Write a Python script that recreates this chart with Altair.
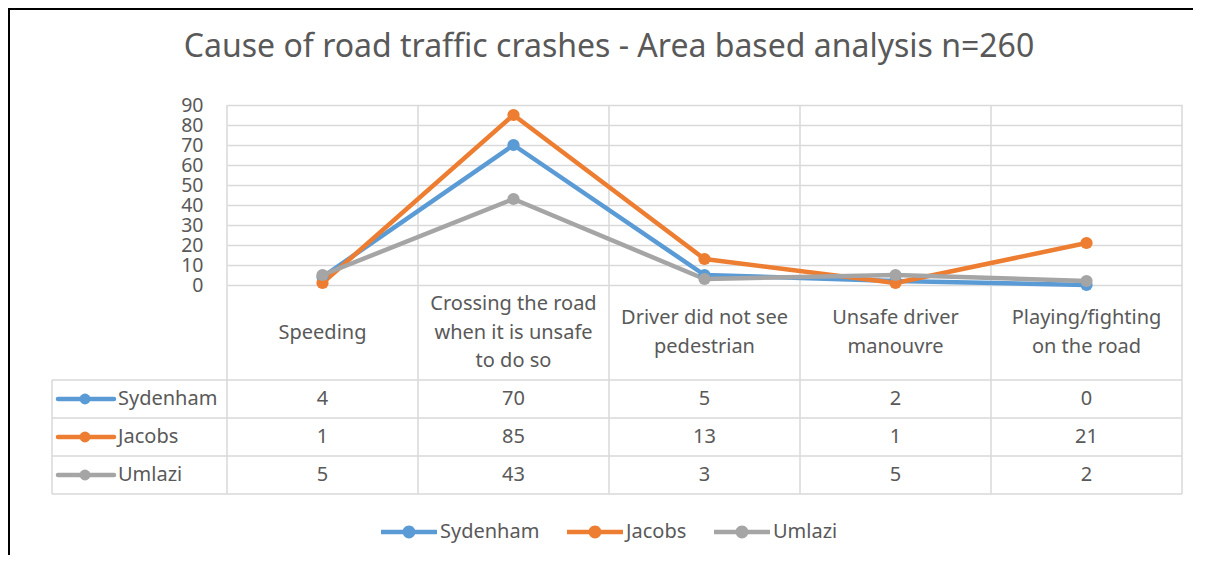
import altair as alt
import pandas as pd

# ---------------- data ----------------
categories = [
    "Speeding",
    "Crossing the road when it is unsafe to do so",
    "Driver did not see pedestrian",
    "Unsafe  driver manouvre",
    "Playing/fighting on the road",
]
category_lines = [
    ["Speeding"],
    ["Crossing the road", "when it is unsafe", "to do so"],
    ["Driver did not see", "pedestrian"],
    ["Unsafe  driver", "manouvre"],
    ["Playing/fighting", "on the road"],
]
series = ["Sydenham", "Jacobs", "Umlazi"]
sydenham = [4, 70, 5, 2, 0]
jacobs = [1, 85, 13, 1, 21]
umlazi = [5, 43, 3, 5, 2]
y_ticks = [0, 10, 20, 30, 40, 50, 60, 70, 80, 90]
colors = ["#5B9BD5", "#ED7D31", "#A5A5A5"]
title_text = "Cause of road traffic crashes - Area based analysis n=260"

# ---------------- style / layout ----------------
FONT = "Noto Sans"
TEXT = "#595959"
GRID = "#D9D9D9"
W, H = 955, 180
HEADER_BOTTOM = 275
ROW_H = 38
ROW_LEFT = -175
FS = 20
LH = 28.5

values_by_series = {"Sydenham": sydenham, "Jacobs": jacobs, "Umlazi": umlazi}
rows = []
for s in series:
    for i, (c, v) in enumerate(zip(categories, values_by_series[s])):
        rows.append({"series": s, "category": c, "pos": i + 0.5, "value": v})
long_df = pd.DataFrame(rows)
cat_df = pd.DataFrame({
    "category": categories,
    "label": ["\n".join(l) for l in category_lines],
    "nlines": [len(l) for l in category_lines],
    "pos": [i + 0.5 for i in range(len(categories))],
})
edge_df = pd.DataFrame({"edge": list(range(len(categories) + 1))})
series_df = pd.DataFrame({"series": series})
one = pd.DataFrame({"k": [0]})

x_scale = alt.Scale(domain=[0, len(categories)], nice=False, zero=False)
y_dom = alt.Scale(domain=[0, 90], nice=False)
color_scale = alt.Scale(domain=series, range=colors)
row_center_top = HEADER_BOTTOM + ROW_H / 2
row_y = alt.Y("series:N", axis=None,
              scale=alt.Scale(type="point", domain=series, padding=0,
                              range=[row_center_top, row_center_top + ROW_H * (len(series) - 1)]))

legend_path = ("M-1,-0.08H1V0.08H-1Z "
               "M0.23,0A0.23,0.23,0,1,1,-0.23,0A0.23,0.23,0,1,1,0.23,0Z")

# ---------------- layers ----------------
lines = alt.Chart(long_df).mark_line(strokeWidth=4.5, strokeCap="round", strokeJoin="round").encode(
    x=alt.X("pos:Q", scale=x_scale, axis=None),
    y=alt.Y("value:Q", scale=y_dom,
            axis=alt.Axis(values=y_ticks, grid=True, domain=False, ticks=False, title=None,
                          labelFont=FONT, labelFontSize=19.5, labelColor=TEXT, labelPadding=24,
                          gridColor=GRID, gridWidth=1.5)),
    color=alt.Color("series:N", scale=color_scale, legend=None),
    detail="series:N",
)

points = alt.Chart(long_df).mark_point(filled=True, opacity=1, size=150).encode(
    x=alt.X("pos:Q", scale=x_scale, axis=None),
    y=alt.Y("value:Q", scale=y_dom, axis=None),
    color=alt.Color("series:N", scale=color_scale,
                    legend=alt.Legend(title=None, orient="none", legendX=154, legendY=399,
                                      direction="horizontal", symbolType=legend_path,
                                      symbolSize=3136, symbolStrokeWidth=0,
                                      labelFont=FONT, labelFontSize=20, labelColor=TEXT,
                                      labelOffset=3, columnPadding=27, padding=0)),
)

vlines = alt.Chart(edge_df).mark_rule(color=GRID, strokeWidth=1.5).encode(
    x=alt.X("edge:Q", scale=x_scale, axis=None),
    y=alt.value(0),
    y2=alt.value(HEADER_BOTTOM + ROW_H * len(series)),
)
left_line = alt.Chart(one).mark_rule(color=GRID, strokeWidth=1.5).encode(
    x=alt.value(ROW_LEFT), y=alt.value(HEADER_BOTTOM),
    y2=alt.value(HEADER_BOTTOM + ROW_H * len(series)),
)
hlines = [
    alt.Chart(one).mark_rule(color=GRID, strokeWidth=1.5).encode(
        x=alt.value(ROW_LEFT), x2=alt.value(W), y=alt.value(HEADER_BOTTOM + ROW_H * k))
    for k in range(len(series) + 1)
]

# header labels: one layer per line count so the block is centred in the header row
header_mid = H + (HEADER_BOTTOM - H) / 2
header_layers = []
for n in sorted(set(cat_df["nlines"])):
    header_layers.append(
        alt.Chart(cat_df).transform_filter(f"datum.nlines == {n}").mark_text(
            lineBreak="\n", font=FONT, fontSize=FS, lineHeight=LH, color=TEXT,
            align="center", baseline="middle", dy=-(n - 1) * LH / 2).encode(
            x=alt.X("pos:Q", scale=x_scale, axis=None),
            y=alt.value(header_mid),
            text="label:N",
        )
    )

cells = alt.Chart(long_df).mark_text(font=FONT, fontSize=FS, color=TEXT,
                                     align="center", baseline="middle").encode(
    x=alt.X("pos:Q", scale=x_scale, axis=None),
    y=row_y,
    text="value:Q",
)

row_sym_line = alt.Chart(series_df).mark_rule(strokeWidth=4.5, strokeCap="round").encode(
    x=alt.value(-169), x2=alt.value(-113), y=row_y,
    color=alt.Color("series:N", scale=color_scale, legend=None),
)
row_sym_pt = alt.Chart(series_df).mark_point(filled=True, opacity=1, size=120).encode(
    x=alt.value(-142), y=row_y,
    color=alt.Color("series:N", scale=color_scale, legend=None),
)
row_label = alt.Chart(series_df).mark_text(font=FONT, fontSize=FS, color=TEXT,
                                           align="left", baseline="middle").encode(
    x=alt.value(-109), y=row_y, text="series:N",
)

title = alt.Chart(one).mark_text(font=FONT, fontSize=32, color=TEXT,
                                 align="center", baseline="alphabetic").encode(
    x=alt.value(382), y=alt.value(-48), text=alt.value(title_text),
)

frame_left = alt.Chart(one).mark_rule(color="#000000", strokeWidth=2).encode(
    x=alt.value(-218), y=alt.value(-97), y2=alt.value(H + 270),
)
frame_top = alt.Chart(one).mark_rule(color="#000000", strokeWidth=2).encode(
    x=alt.value(-219), x2=alt.value(W + 11), y=alt.value(-96),
)

chart = alt.layer(
    frame_left, frame_top, title,
    *hlines, vlines, left_line,
    *header_layers, cells, row_sym_line, row_sym_pt, row_label,
    lines, points,
).resolve_scale(y="independent").resolve_legend(color="independent").properties(
    width=W, height=H,
    autosize=alt.AutoSizeParams(type="none"),
    padding={"left": 219, "top": 97, "right": 11, "bottom": 270},
    background="#FFFFFF",
).configure_view(strokeWidth=0)

chart.save("out.html", embed_options={"renderer": "svg", "actions": False})
